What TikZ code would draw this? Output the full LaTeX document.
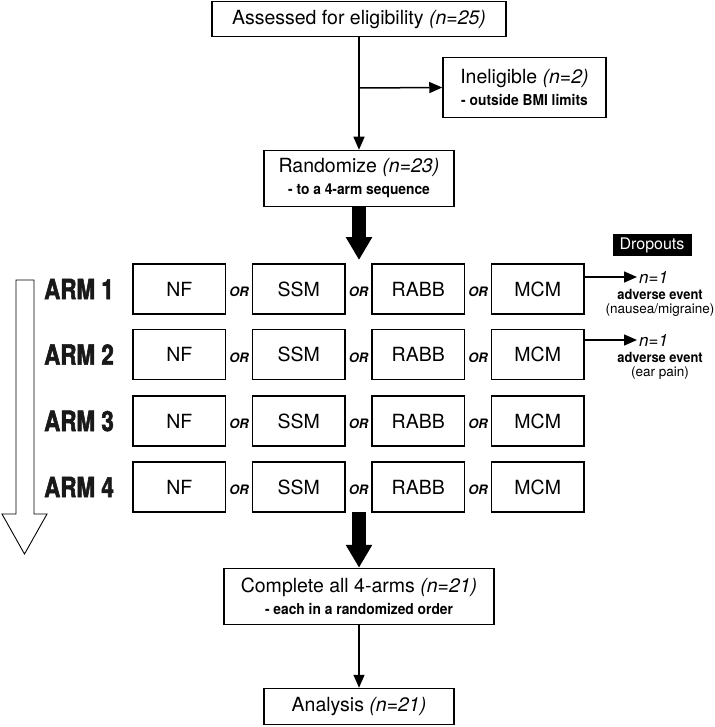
\documentclass[tikz,border=0pt]{standalone}
\usepackage{fontspec}
\setmainfont{TeX Gyre Heros}
\newfontfamily\armfont{TeX Gyre Heros}[FakeStretch=0.8,FakeBold=2]
\newfontfamily\subfont{TeX Gyre Heros}[FakeStretch=0.92]
\usetikzlibrary{arrows.meta}
\begin{document}
\begin{tikzpicture}[x=1pt,y=-1pt,
  box/.style={draw, line width=1.5pt, inner sep=0pt, align=center, font=\fontsize{19.5}{23}\selectfont},
  armbox/.style={box, minimum width=92.5pt, minimum height=50pt},
  arr/.style={line width=1.5pt, -{Triangle[length=13pt,width=11pt]}},
  bigarr/.style={line width=14pt, -{Triangle[length=23pt,width=25pt]}},
  orlab/.style={inner sep=0pt, font=\fontsize{13}{15}\selectfont\bfseries\itshape},
  armlab/.style={inner sep=0pt, text=black!90, font=\fontsize{28}{30}\armfont\bfseries},
  dtext/.style={inner sep=0pt, font=\fontsize{13.5}{15}\selectfont}
]
\useasboundingbox (0,0) rectangle (714,727);

% top flow
\node[box, minimum width=294pt, minimum height=35pt] (ass) at (359,19) {Assessed for eligibility \textit{(n=25)}};
\node[box, minimum width=163pt, minimum height=60pt] (inel) at (524.5,87.5) {Ineligible \textit{(n=2)}\\[-1pt]{\fontsize{15}{17}\subfont\bfseries - outside BMI limits}};
\node[box, minimum width=190pt, minimum height=56pt] (rand) at (359,178.5) {Randomize \textit{(n=23)}\\[-1pt]{\fontsize{15}{17}\subfont\bfseries - to a 4-arm sequence}};
\coordinate (br) at (359,88);
\draw[line width=1.5pt] (ass.south) -- (br);
\draw[arr] (br) -- (rand.north);
\draw[arr] (br) -- (inel.west);

% arms
\foreach \r/\y in {1/289,2/354.5,3/421,4/487}{
  \node[armbox] (nf\r) at (179.25,\y) {NF};
  \node[armbox] (ssm\r) at (298.75,\y) {SSM};
  \node[armbox] (rabb\r) at (418.25,\y) {RABB};
  \node[armbox] (mcm\r) at (537.75,\y) {MCM};
  \node[orlab] (ora\r) at (239,\y+3) {OR};
  \node[orlab] (orb\r) at (358.5,\y+3) {OR};
  \node[orlab] (orc\r) at (478,\y+3) {OR};
  \node[armlab] (arm\r) at (79,\y) {ARM \r};
}

% thick arrows
\coordinate (t1) at (359,260);
\draw[bigarr] (rand.south) -- (t1);
\coordinate (t2) at (359,512);

\node[box, minimum width=270pt, minimum height=56pt] (comp) at (359,596.5) {Complete all 4-arms \textit{(n=21)}\\[-1pt]{\fontsize{15}{17}\subfont\bfseries - each in a randomized order}};
\draw[bigarr] (t2) -- (comp.north);
\node[box, minimum width=190pt, minimum height=36pt] (anal) at (359,706.5) {Analysis \textit{(n=21)}};
\draw[arr] (comp.south) -- (anal.north);

% hollow arrow
\draw[line width=0.9pt, line join=miter] (16,280) -- (34,280) -- (34,514) -- (47,514) -- (24.5,554) -- (2,514) -- (16,514) -- cycle;

% dropouts
\node[fill=black, text=white, inner sep=0pt, minimum width=79pt, minimum height=22pt, font=\fontsize{16}{18}\selectfont] (drop) at (652,245) {Dropouts};
\coordinate (d1) at (637,277);
\coordinate (d2) at (637,340);
\draw[arr] ([yshift=12pt]mcm1.east) -- (d1);
\draw[arr] ([yshift=14.5pt]mcm2.east) -- (d2);
\node[anchor=west, inner sep=0pt, font=\fontsize{17}{19}\selectfont\itshape] (n1) at ([xshift=2pt]d1) {n=1};
\node[dtext, font=\fontsize{14}{16}\subfont\bfseries] (ae1) at (660,294.5) {adverse event};
\node[dtext] (c1) at (660,310) {(nausea/migraine)};
\node[anchor=west, inner sep=0pt, font=\fontsize{17}{19}\selectfont\itshape] (n2) at ([xshift=2pt]d2) {n=1};
\node[dtext, font=\fontsize{14}{16}\subfont\bfseries] (ae2) at (660,357.5) {adverse event};
\node[dtext] (c2) at (660,373) {(ear pain)};
\end{tikzpicture}
\end{document}
